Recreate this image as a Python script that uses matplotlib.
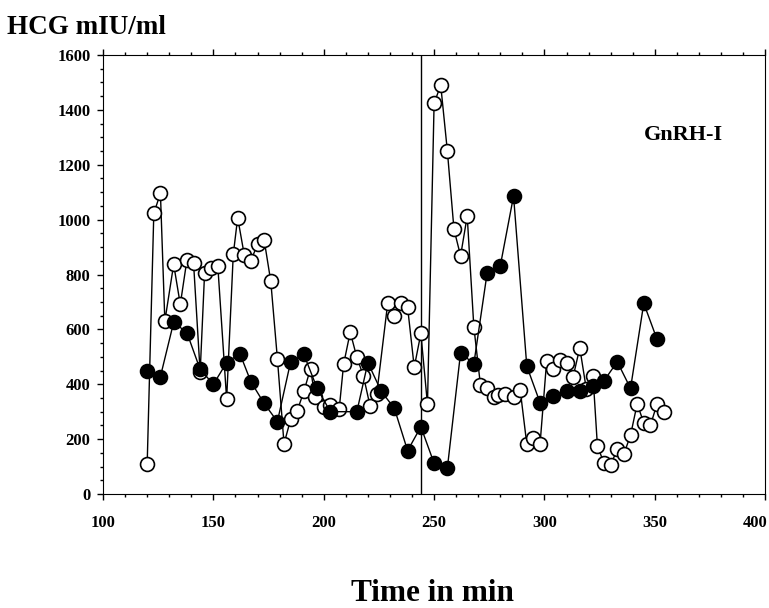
import matplotlib
matplotlib.use("Agg")
import matplotlib.pyplot as plt
from matplotlib.ticker import MultipleLocator, FuncFormatter

plt.rcParams['font.family'] = ['Liberation Serif', 'DejaVu Serif']
plt.rcParams['font.weight'] = 'bold'

# open circles (3 min sampling)
open_t = [120, 123, 126, 128, 132, 135, 138, 141, 144, 146,
          149, 152, 156, 159, 161, 164, 167, 170, 173, 176,
          179, 182, 185, 188, 191, 194, 196, 200, 203, 207,
          209, 212, 215, 218, 221, 224, 229, 232, 235, 238,
          241, 244, 247, 250, 253, 256, 259, 262, 265, 268,
          271, 274, 277, 279, 282, 286, 289, 292, 295, 298,
          301, 304, 307, 310, 313, 316, 319, 322, 324, 327,
          330, 333, 336, 339, 342, 345, 348, 351, 354]
open_hcg = [110, 1023, 1096, 630, 837, 691, 853, 843, 443, 804,
            822, 831, 345, 873, 1007, 871, 850, 911, 926, 775,
            493, 183, 272, 304, 374, 457, 354, 318, 324, 310,
            473, 590, 498, 430, 320, 364, 697, 648, 697, 680,
            462, 585, 327, 1424, 1490, 1251, 965, 868, 1013, 610,
            397, 385, 352, 362, 364, 355, 380, 182, 203, 181,
            485, 454, 488, 479, 427, 533, 381, 430, 175, 112,
            106, 163, 146, 214, 328, 260, 250, 328, 300]

# filled circles (6 min sampling)
fill_t = [120, 126, 132, 138, 144, 150, 156, 162, 167, 173,
          179, 185, 191, 197, 203, 215, 220, 226, 232, 238,
          244, 250, 256, 262, 268, 274, 280, 286, 292, 298,
          304, 310, 316, 322, 327, 333, 339, 345, 351]
fill_hcg = [449, 428, 626, 588, 454, 400, 479, 512, 409, 330,
            264, 482, 509, 385, 300, 300, 479, 375, 312, 158,
            245, 112, 94, 515, 474, 804, 832, 1086, 466, 333,
            357, 375, 375, 394, 413, 482, 385, 695, 564]

gnrh_time = 244
x_max = 400

fig = plt.figure(figsize=(7.69, 6.08), dpi=100)
ax = fig.add_axes([0.134, 0.1875, 0.861, 0.722])

ax.axvline(gnrh_time, color='black', lw=1.0, zorder=1)

ax.plot(open_t, open_hcg, '-o', color='black', lw=1.0, ms=10,
        mfc='white', mec='black', mew=1.2, zorder=2)
ax.plot(fill_t, fill_hcg, '-o', color='black', lw=1.0, ms=10,
        mfc='black', mec='black', mew=1.2, zorder=3)

ax.set_xlim(100, x_max)
ax.set_ylim(0, 1600)
ax.xaxis.set_major_locator(MultipleLocator(50))
ax.xaxis.set_minor_locator(MultipleLocator(10))
ax.yaxis.set_major_locator(MultipleLocator(200))
ax.yaxis.set_minor_locator(MultipleLocator(50))
# the last label is drawn by hand so it stays inside the picture
ax.xaxis.set_major_formatter(FuncFormatter(lambda v, p: '' if v >= x_max else '%d' % v))
ax.tick_params(which='both', direction='out', top=True, labelsize=12, width=1)
ax.tick_params(which='major', length=4, pad=5)
ax.tick_params(which='minor', length=2.5)
ax.tick_params(axis='x', which='major', pad=11)

ax.annotate('%d' % x_max, xy=(x_max, 0), xycoords='data', xytext=(-7, -15),
            textcoords='offset points', ha='center', va='top',
            fontsize=12, fontweight='bold', annotation_clip=False)

ax.text(345, 1308, 'GnRH-I', fontsize=16, fontweight='bold', va='center')

fig.text(0.009, 0.955, 'HCG mIU/ml', fontsize=19.5, fontweight='bold', va='center')
fig.text(0.563, 0.012, 'Time in min', fontsize=22.5, fontweight='bold',
         ha='center', va='baseline')

fig.savefig('out.png', dpi=100)
